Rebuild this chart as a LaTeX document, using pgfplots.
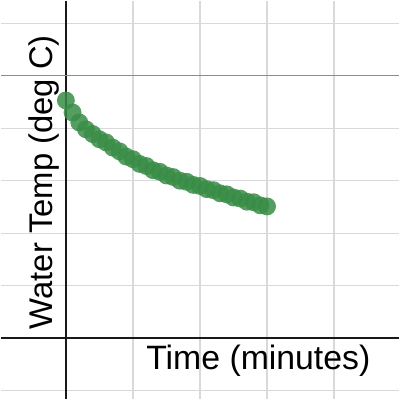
\documentclass[border=0pt]{standalone}
\usepackage{pgfplots}
\pgfplotsset{compat=1.18}
\usepackage{fontspec}
\setmainfont{Liberation Sans}
\definecolor{dgreen}{HTML}{388C46}
\begin{document}
\begin{tikzpicture}
\begin{axis}[
  scale only axis, width=400pt, height=400pt,
  xmin=-9.63, xmax=49.63, ymin=-11.55, ymax=64.2,
  axis lines=middle,
  axis line style={-, line width=2.6pt, black!90},
  xtick={-10,10,20,30,40}, ytick={-10,10,20,30,40,60},
  extra y ticks={50}, extra y tick labels={},
  extra y tick style={grid style={black!45, line width=1.3pt}},
  xticklabels={}, yticklabels={},
  major tick length=0pt,
  grid=major,
  grid style={black!15, line width=1.3pt},
  clip=false,
]
\addplot[only marks, mark=*, mark size=9pt, draw=dgreen, fill=dgreen,
  mark options={draw=dgreen, draw opacity=0, fill=dgreen, fill opacity=0.85}]
  coordinates {
  (0,45.3) (1,43.0) (2,41.1) (3,39.8) (4,38.9) (5,37.9) (6,37.3) (7,36.3)
  (8,35.6) (9,34.6) (10,34.1) (11,33.2) (12,32.8) (13,32.0) (14,31.7)
  (15,31.0) (16,30.7) (17,30.0) (18,29.8) (19,29.2) (20,29.0) (21,28.4)
  (22,28.2) (23,27.6) (24,27.4) (25,26.8) (26,26.6) (27,26.0) (28,25.9)
  (29,25.3) (30,25.1)
  };
\node[anchor=base, font=\fontsize{34}{37}\selectfont] at (axis cs:28.7,-5.9) {Time (minutes)};
\node[anchor=base, rotate=90, font=\fontsize{33}{36}\selectfont] at (axis cs:-1.93,29.7) {Water Temp (deg C)};
\end{axis}
\end{tikzpicture}
\end{document}
